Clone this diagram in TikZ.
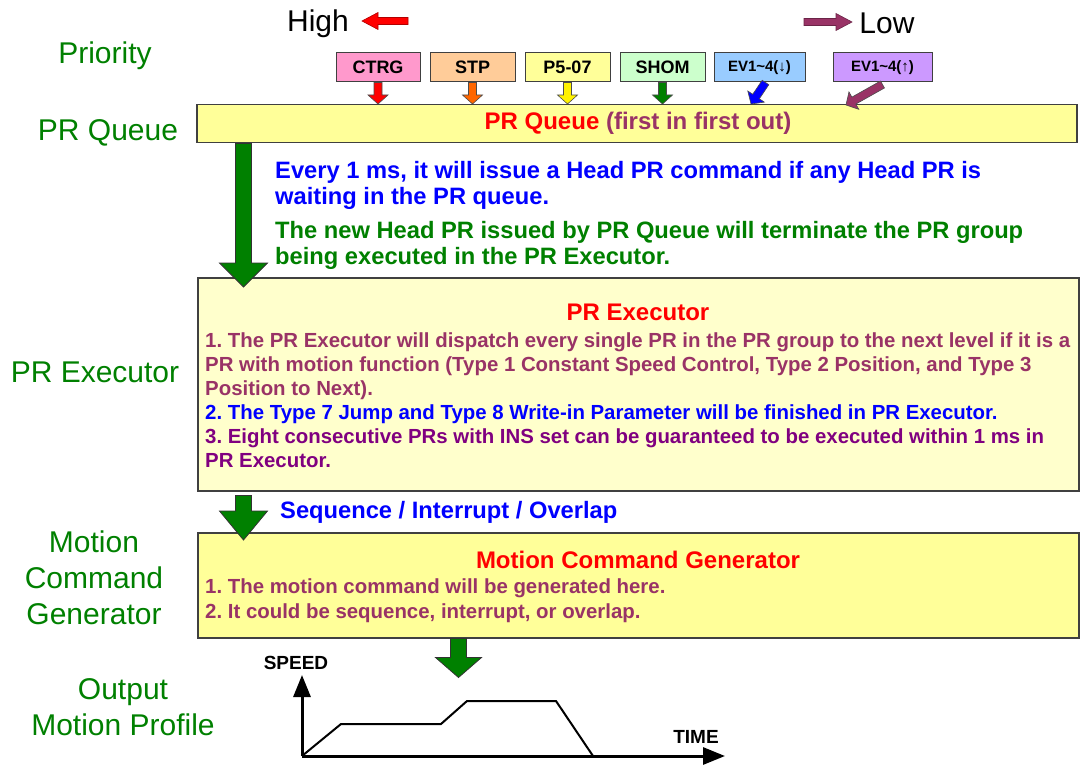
\documentclass[tikz,border=0pt]{standalone}
\usepackage{fontspec}
\setmainfont{Liberation Sans}
\usetikzlibrary{arrows.meta,calc,positioning}
\definecolor{Plum}{HTML}{993366}
\definecolor{Violet}{HTML}{800080}
\definecolor{DkGreen}{HTML}{008000}
\definecolor{PaleYellow}{HTML}{FFFFCC}
\definecolor{LtYellow}{HTML}{FFFF99}
\definecolor{Rose}{HTML}{FF99CC}
\definecolor{Tan}{HTML}{FFCC99}
\definecolor{LtGreen}{HTML}{CCFFCC}
\definecolor{PaleBlue}{HTML}{99CCFF}
\definecolor{Lavender}{HTML}{CC99FF}
\definecolor{Orange}{HTML}{FF6600}
\definecolor{Frame}{HTML}{404040}
\frenchspacing

% block arrow: style, from, to, half shaft, half head, head length
\newcommand{\fatarrow}[6]{%
  \coordinate (fa) at ($(#3)!#6!(#2)$);
  \filldraw[#1] ($(#2)!#4!90:(#3)$) -- ($(fa)!#4!-90:(#2)$) -- ($(fa)!#5!-90:(#2)$)
    -- (#3) -- ($(fa)!#5!90:(#2)$) -- ($(fa)!#4!90:(#2)$) -- ($(#2)!#4!-90:(#3)$) -- cycle;
}

\begin{document}
\begin{tikzpicture}[x=1pt,y=-1pt,
  every node/.style={inner sep=0pt},
  level/.style={font=\fontsize{30}{36}\selectfont,text=DkGreen,align=center},
  prio/.style={draw=Frame,line width=1pt,minimum height=29pt,font=\bfseries\fontsize{18}{18}\selectfont},
  stage/.style={draw=Frame,line width=1.5pt,anchor=north west},
  title/.style={font=\bfseries\fontsize{24}{24}\selectfont,text=red,anchor=base},
  body/.style={font=\bfseries\fontsize{20.4}{24}\selectfont,align=left,anchor=north west},
  note/.style={font=\bfseries\fontsize{23.7}{26.5}\selectfont,align=left,anchor=north west},
  fat/.style={fill=DkGreen,draw=black!80,line width=0.8pt},
  thin/.style={draw=black!70,line width=0.6pt},
  axis/.style={line width=3pt,-{Triangle[length=22pt,width=17pt]}}
]
\useasboundingbox (0,0) rectangle (1084,765);

% level names
\node[level] (lprio) at (105,56) {Priority};
\node[level] (lqueue) at (108,133) {PR Queue};
\node[level] (lexec) at (95,372) {PR Executor};
\node[level] (lmcg) at (94,578) {Motion\\Command\\Generator};
\node[level] (lout) at (123,707) {Output\\Motion Profile};

% high / low
\node[font=\fontsize{30}{30}\selectfont] (high) at (318,24) {High};
\node[font=\fontsize{30}{30}\selectfont] (low) at (887,23) {Low};
\coordinate (highS) at (408,21);
\coordinate (highT) at (362,21);
\coordinate (lowS) at (804,22);
\coordinate (lowT) at (852,22);

% priority sources
\node[prio,fill=Rose,minimum width=84pt] (ctrg) at (378,67.5) {CTRG};
\node[prio,fill=Tan,minimum width=85pt,right=9pt of ctrg] (stp) {STP};
\node[prio,fill=LtYellow,minimum width=85pt,right=9pt of stp] (p507) {P5-07};
\node[prio,fill=LtGreen,minimum width=85pt,right=9pt of p507] (shom) {SHOM};
\node[prio,fill=PaleBlue,minimum width=91pt,right=8pt of shom,font=\bfseries\fontsize{15}{15}\selectfont] (evdn) {EV1\textasciitilde4(↓)};
\node[prio,fill=Lavender,minimum width=99pt,right=27pt of evdn,font=\bfseries\fontsize{15}{15}\selectfont] (evup) {EV1\textasciitilde4(↑)};

% stages
\node[stage,fill=LtYellow,minimum width=880pt,minimum height=38pt] (queue) at (196,104) {};
\node[title] (tqueue) at (638,130) {PR Queue \textcolor{Plum}{(first in first out)}};

\node[note,text=blue] (every) at (275,161) {Every 1 ms, it will issue a Head PR command if any Head PR is\\waiting in the PR queue.};
\node[note,text=DkGreen] (newhead) at (275,221) {The new Head PR issued by PR Queue will terminate the PR group\\being executed in the PR Executor.};

\node[stage,fill=PaleYellow,minimum width=881pt,minimum height=213pt] (exec) at (197,277) {};
\node[title] (texec) at (638,320) {PR Executor};
\node[body,text=Plum] (bexec) at (205,333) {1. The PR Executor will dispatch every single PR in the PR group to the next level if it is a\\
PR with motion function (Type 1 Constant Speed Control, Type 2 Position, and Type 3\\
Position to Next).\\
\textcolor{blue}{2. The Type 7 Jump and Type 8 Write-in Parameter will be finished in PR Executor.}\\
\textcolor{Violet}{3. Eight consecutive PRs with INS set can be guaranteed to be executed within 1 ms in}\\
\textcolor{Violet}{PR Executor.}};

\node[font=\bfseries\fontsize{23.7}{23.7}\selectfont,text=blue,anchor=base west] (seq) at (280,518) {Sequence / Interrupt / Overlap};

\node[stage,fill=LtYellow,minimum width=881pt,minimum height=105pt] (motion) at (197,532) {};
\node[title] (tmotion) at (638,568) {Motion Command Generator};
\node[body,text=Plum,font=\bfseries\fontsize{20.4}{25}\selectfont] (bmotion) at (205,579) {1. The motion command will be generated here.\\2. It could be sequence, interrupt, or overlap.};

% arrows into the queue
\coordinate (ctrgT) at (ctrg.south |- queue.north);
\coordinate (stpT) at (stp.south |- queue.north);
\coordinate (p507T) at (p507.south |- queue.north);
\coordinate (shomT) at (shom.south |- queue.north);
\coordinate (evdnS) at ([xshift=6pt]evdn.south);
\coordinate (evdnT) at (751,104);
\coordinate (evupS) at ([yshift=-2pt]evup.south);
\coordinate (evupT) at (846,105);
\fatarrow{thin,fill=red}{ctrg.south}{ctrgT}{4pt}{10pt}{9pt}
\fatarrow{thin,fill=Orange}{stp.south}{stpT}{4pt}{10pt}{9pt}
\fatarrow{thin,fill=yellow}{p507.south}{p507T}{4pt}{10pt}{9pt}
\fatarrow{thin,fill=DkGreen}{shom.south}{shomT}{4pt}{10pt}{9pt}
\fatarrow{thin,fill=blue}{evdnS}{evdnT}{4pt}{10pt}{9pt}
\fatarrow{thin,fill=Plum}{evupS}{evupT}{4pt}{10pt}{9pt}
\fatarrow{draw=red!70!black,line width=0.6pt,fill=red}{highS}{highT}{3.5pt}{8.5pt}{16pt}
\fatarrow{draw=Plum!70!black,line width=0.6pt,fill=Plum}{lowS}{lowT}{3.5pt}{8.5pt}{16pt}

% flow between stages
\coordinate (a1S) at ([xshift=47.5pt]queue.south west);
\coordinate (a1T) at ([yshift=-10pt]a1S |- exec.north);
\coordinate (a2S) at ([xshift=46.5pt,yshift=-4pt]exec.south west);
\coordinate (a2T) at ([yshift=-8pt]a2S |- motion.north);
\coordinate (a3S) at ([xshift=261.5pt]motion.south west);
\coordinate (a3T) at ([yshift=-39pt]a3S);
\fatarrow{fat}{a1S}{a1T}{8pt}{24pt}{24pt}
\fatarrow{fat}{a2S}{a2T}{8pt}{24pt}{29pt}
\fatarrow{fat}{a3S}{a3T}{8pt}{23pt}{20pt}

% motion profile
\coordinate (o) at (302,756);
\coordinate (ytip) at (302,675);
\coordinate (xtip) at (725,756);
\draw[axis] (o) -- (ytip);
\draw[axis] (o) -- (xtip);
\draw[line width=2pt] (o) -- (341,724) -- (441,724) -- (467,701) -- (556,701) -- (593,756);
\node[font=\bfseries\fontsize{19}{19}\selectfont] (speed) at (296,663) {SPEED};
\node[font=\bfseries\fontsize{19}{19}\selectfont] (time) at (696,737) {TIME};
\end{tikzpicture}
\end{document}
